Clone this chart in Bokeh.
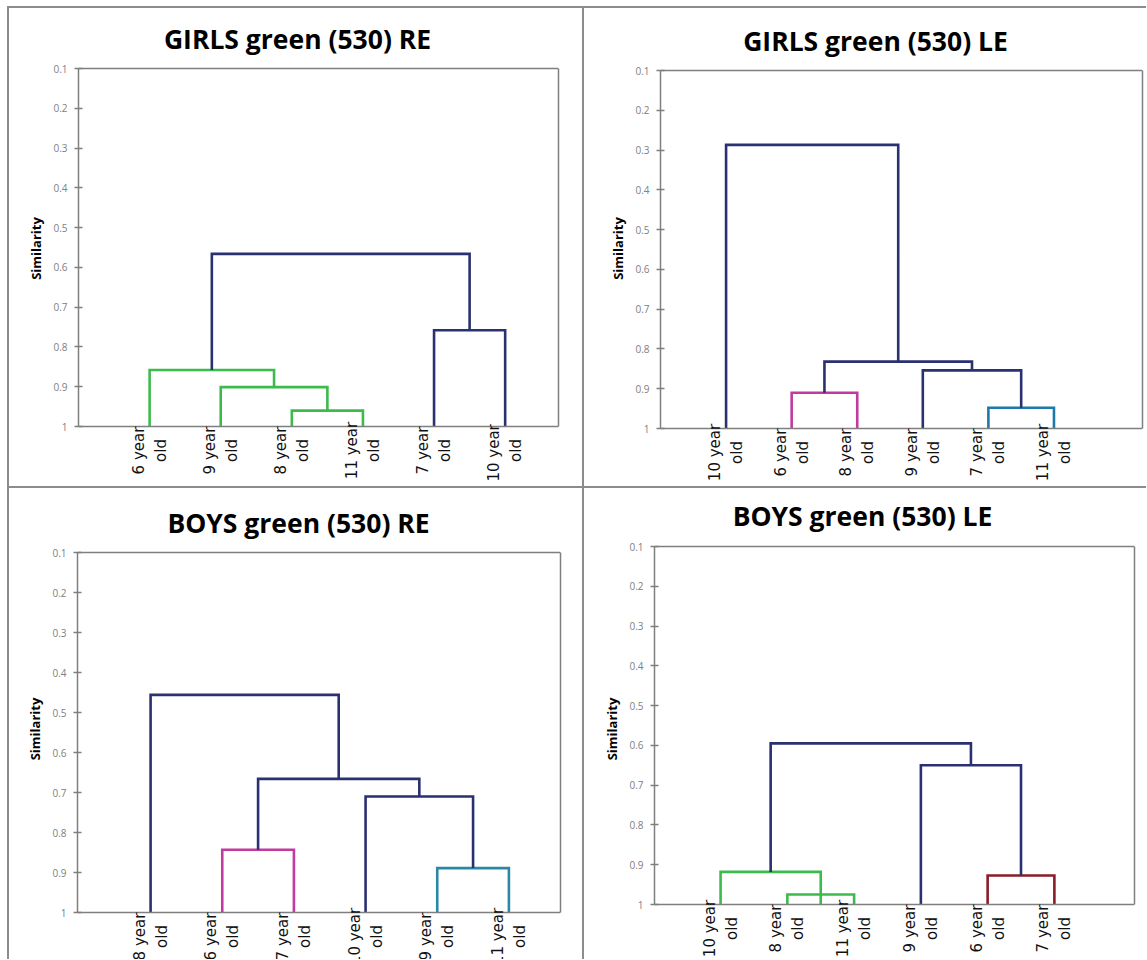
import math
from bokeh.plotting import figure
from bokeh.models import Range1d, FixedTicker, ColumnDataSource, Label, Div, LinearAxis, Span
from bokeh.layouts import column, row
from bokeh.embed import file_html
from bokeh.resources import INLINE

NAVY = "#2A3170"
GREEN = "#3DBA4C"
MAGENTA = "#C03AA0"
TEAL = "#1F78AA"
TEAL2 = "#2B88A4"
DRED = "#8A1C28"
GREY = "#7f7f7f"
LINE_GREY = "#8c8c8c"

y_ticks = [0.1, 0.2, 0.3, 0.4, 0.5, 0.6, 0.7, 0.8, 0.9, 1.0]
y_tick_labels = ["0.1", "0.2", "0.3", "0.4", "0.5", "0.6", "0.7", "0.8", "0.9", "1"]

# merges: (left child, right child, similarity, colour); 0-5 = leaves, 6+ = merges in order
girls_re_title = "GIRLS green (530) RE"
girls_re_leaves = ["6 year\nold", "9 year\nold", "8 year\nold", "11 year\nold", "7 year\nold", "10  year\nold"]
girls_re_merges = [(2, 3, 0.960, GREEN), (1, 6, 0.901, GREEN), (0, 7, 0.858, GREEN),
                   (4, 5, 0.758, NAVY), (8, 9, 0.566, NAVY)]
girls_re_stems_to_base = []

girls_le_title = "GIRLS green (530) LE"
girls_le_leaves = ["10 year\nold", "6 year\nold", "8 year\nold", "9 year\nold", "7 year\nold", "11 year\nold"]
girls_le_merges = [(1, 2, 0.910, MAGENTA), (4, 5, 0.948, TEAL), (3, 7, 0.854, NAVY),
                   (6, 8, 0.832, NAVY), (0, 9, 0.287, NAVY)]
girls_le_stems_to_base = []

boys_re_title = "BOYS green (530) RE"
boys_re_leaves = ["8 year\nold", "6 year\nold", "7 year\nold", "10 year\nold", "9 year\nold", "11 year\nold"]
boys_re_merges = [(1, 2, 0.843, MAGENTA), (4, 5, 0.889, TEAL2), (3, 7, 0.710, NAVY),
                  (6, 8, 0.666, NAVY), (0, 9, 0.456, NAVY)]
boys_re_stems_to_base = []

boys_le_title = "BOYS green (530) LE"
boys_le_leaves = ["10 year\nold", "8 year\nold", "11 year\nold", "9 year\nold", "6 year\nold", "7 year\nold"]
boys_le_merges = [(1, 2, 0.975, GREEN), (0, 6, 0.918, GREEN), (4, 5, 0.927, DRED),
                  (3, 8, 0.650, NAVY), (7, 9, 0.595, NAVY)]
boys_le_stems_to_base = [6]   # the stem of this cluster is drawn down to the base line


def style_axis(ax):
    ax.axis_line_color = GREY
    ax.axis_line_width = 1.5
    ax.bounds = (y_ticks[0], y_ticks[-1])
    ax.minor_tick_line_color = None


def make_panel(title, leaves, merges, stems_to_base, width, height, frame_top,
               box_left, box_right, box_top, box_h, x_range, title_cx, title_rise):
    top, base = y_ticks[0], y_ticks[-1]
    per_px = (base - top) / box_h
    # the frame reaches the canvas bottom so that the leaf texts are inside it
    p = figure(width=width, height=height, output_backend="svg", toolbar_location=None,
               title_location=None,
               x_range=Range1d(*x_range),
               y_range=Range1d(base + (height - box_top - box_h) * per_px,
                               top - (box_top - frame_top) * per_px),
               x_axis_location=None, tools="")
    p.min_border_left = box_left
    p.min_border_right = width - box_right
    p.min_border_top = frame_top
    p.min_border_bottom = 0
    p.background_fill_color = "white"
    p.border_fill_color = "white"
    p.outline_line_color = None
    p.grid.visible = False

    # y axis
    ax = p.yaxis[0]
    style_axis(ax)
    ax.ticker = FixedTicker(ticks=y_ticks)
    ax.major_label_overrides = {t: s for t, s in zip(y_ticks, y_tick_labels)}
    ax.major_tick_in = 4
    ax.major_tick_out = 4
    ax.major_tick_line_color = GREY
    ax.major_tick_line_width = 1.5
    ax.major_label_text_font = "Open Sans"
    ax.major_label_text_font_size = "10px"
    ax.major_label_text_color = "#808080"
    ax.major_label_standoff = 7
    ax.axis_label = "Similarity"
    ax.axis_label_text_font = "Open Sans"
    ax.axis_label_text_font_style = "bold"
    ax.axis_label_text_font_size = "13px"
    ax.axis_label_text_color = "#000000"
    ax.axis_label_standoff = 5

    # right edge of the plot box
    rax = LinearAxis(ticker=FixedTicker(ticks=[]), major_tick_line_color=None)
    style_axis(rax)
    p.add_layout(rax, "right")
    # top and bottom edges of the plot box
    p.add_layout(Span(location=top, dimension="width", line_color=GREY, line_width=1.5))
    p.add_layout(Span(location=base, dimension="width", line_color=GREY, line_width=1.5))

    # title
    x0, x1 = x_range
    ppu = (box_right - box_left) / (x1 - x0)
    p.add_layout(Label(x=x0 + (title_cx - box_left) / ppu, y=top, y_offset=title_rise,
                       text=title, text_align="center", text_baseline="middle",
                       text_font="Open Sans", text_font_style="bold",
                       text_font_size="26.5px", text_color="#000000"))

    # dendrogram geometry from merges
    xpos = [float(i + 1) for i in range(len(leaves))]
    hgt = [base] * len(leaves)
    xs, ys, cols = [], [], []
    for a, b, h, c in merges:
        ha = base if a in stems_to_base else hgt[a]
        hb = base if b in stems_to_base else hgt[b]
        xs.append([xpos[a], xpos[a], xpos[b], xpos[b]])
        ys.append([ha, h, h, hb])
        cols.append(c)
        xpos.append((xpos[a] + xpos[b]) / 2.0)
        hgt.append(h)
    p.multi_line(xs="xs", ys="ys", line_color="c", line_width=2.6, line_join="miter",
                 source=ColumnDataSource(dict(xs=xs, ys=ys, c=cols)))

    # leaf labels
    for i, t in enumerate(leaves):
        p.add_layout(Label(x=float(i + 1), y=base, text=t, y_offset=-24,
                           angle=math.pi / 2, text_align="center", text_baseline="middle",
                           text_font="DejaVu Sans", text_font_size="15px",
                           text_line_height=1.23, text_color="#111111"))
    return p


def vline(h):
    return Div(text="", width=2, height=h, margin=0, styles={"background-color": LINE_GREY})


def hline(w):
    return Div(text="", width=w, height=2, margin=0, styles={"background-color": LINE_GREY})


p1 = make_panel(girls_re_title, girls_re_leaves, girls_re_merges, girls_re_stems_to_base,
                573, 478, 2, 69, 549, 60, 358, (0.0, 6.75), 288, 30)
p2 = make_panel(girls_le_title, girls_le_leaves, girls_le_merges, girls_le_stems_to_base,
                562, 478, 2, 76, 558, 62, 358, (0.0, 7.35), 291, 30)
p3 = make_panel(boys_re_title, boys_re_leaves, boys_re_merges, boys_re_stems_to_base,
                573, 471, 10, 68, 551, 64, 360, (-0.02, 6.72), 289, 30)
p4 = make_panel(boys_le_title, boys_le_leaves, boys_le_merges, boys_le_stems_to_base,
                562, 471, 10, 70, 550, 58, 358, (0.01, 7.2), 278, 31)

layout = column(
    hline(1139),
    row(vline(478), p1, vline(478), p2, spacing=0, margin=0),
    hline(1139),
    row(vline(471), p3, vline(471), p4, spacing=0, margin=0),
    spacing=0, margin=(6, 0, 0, 7))

open("out.html", "w").write(file_html(layout, INLINE))
